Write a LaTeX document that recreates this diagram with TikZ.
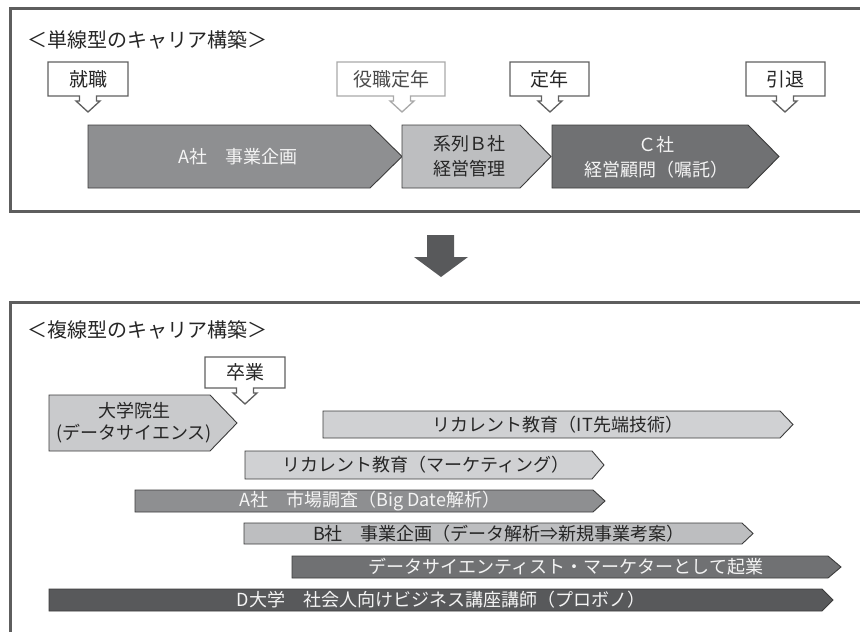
\documentclass[tikz,border=0pt]{standalone}
\usepackage{fontspec}
\setmainfont{Noto Sans CJK JP}
\definecolor{framegray}{HTML}{5E5E5E}
\definecolor{edgegray}{HTML}{3C3C3C}
\definecolor{midgray}{HTML}{8E8F91}
\definecolor{lightgrayb}{HTML}{BDBEC0}
\definecolor{darkgrayb}{HTML}{707173}
\definecolor{palegray}{HTML}{D0D1D3}
\definecolor{darkestgray}{HTML}{58595B}
\definecolor{gradgray}{HTML}{C9CACC}
\definecolor{whitetext}{HTML}{F4F4F4}
\definecolor{darktext}{HTML}{262626}
\definecolor{paleedge}{HTML}{A9A9A9}
\definecolor{paletext}{HTML}{4A4A4A}
\definecolor{callgray}{HTML}{606060}
\tikzset{
  frame/.style={draw=framegray, line width=3pt},
  chev/.style={draw=edgegray, line width=0.9pt, line join=miter},
  callbox/.style={draw=callgray, line width=1.3pt, fill=white, line join=miter},
  callpale/.style={draw=paleedge, line width=1.3pt, fill=white, line join=miter},
  lbl/.style={inner sep=0pt, font=\fontsize{18}{25}\selectfont, align=center},
  wtxt/.style={lbl, text=whitetext},
  dtxt/.style={lbl, text=darktext},
  ttl/.style={inner sep=0pt, anchor=west, font=\fontsize{20}{24}\selectfont, text=darktext},
}
% chevron: style, x1, x2, tip, y1, y2
\newcommand\chevpath[6]{%
  \draw[chev,#1] (#2,#5) -- (#3,#5) -- (#4,{(#5+#6)/2}) -- (#3,#6) -- (#2,#6) -- cycle;}
% callout: style, bx1, by1, bx2, by2, ax
\newcommand\calloutpath[6]{%
  \draw[#1] (#2,#3) -- (#4,#3) -- (#4,#5) -- ({#6+8.5},#5) -- ({#6+8.5},{#5+5})
    -- ({#6+12},{#5+5}) -- (#6,{#5+16}) -- ({#6-12},{#5+5}) -- ({#6-8.5},{#5+5})
    -- ({#6-8.5},#5) -- (#2,#5) -- cycle;}
\begin{document}
\begin{tikzpicture}[x=1pt, y=-1pt]
\useasboundingbox (0,0) rectangle (860,632);
\clip (0,0) rectangle (860,632);
\fill[white] (0,0) rectangle (860,632);

% top frame
\draw[frame] (865,8) -- (10,8) -- (10,211) -- (865,211);
\node[ttl] (t1) at (27,40) {＜単線型のキャリア構築＞};

% callouts (top)
\calloutpath{callbox}{48}{62}{128}{96}{88}
\node[dtxt, font=\fontsize{19}{22}\selectfont] (c1) at (88,79) {就職};
\calloutpath{callpale}{337}{62}{445}{96}{402}
\node[lbl, text=paletext, font=\fontsize{19}{22}\selectfont] (c2) at (391,79) {役職定年};
\calloutpath{callbox}{510}{62}{589}{96}{550}
\node[dtxt, font=\fontsize{19}{22}\selectfont] (c3) at (549.5,79) {定年};
\calloutpath{callbox}{746}{62}{825}{96}{785}
\node[dtxt, font=\fontsize{19}{22}\selectfont] (c4) at (785.5,79) {引退};

% top chevrons
\chevpath{fill=midgray}{88}{370}{402}{125}{188}
\node[wtxt] (a1) at (238,156.5) {A社　事業企画};
\chevpath{fill=lightgrayb}{402}{520}{551}{125}{188}
\node[dtxt] (b1) at (469,156.5) {系列Ｂ社\\経営管理};
\chevpath{fill=darkgrayb}{552}{748}{779}{125}{188}
\node[wtxt] (cc1) at (656,157) {Ｃ社\\経営顧問（嘱託）};

% down arrow
\fill[darkestgray] (427,235) -- (454,235) -- (454,257) -- (468,257) -- (441,277)
  -- (414,257) -- (427,257) -- cycle;

% bottom frame
\draw[frame] (865,302) -- (10,302) -- (10,640);
\node[ttl] (t2) at (27,330) {＜複線型のキャリア構築＞};

% graduation callout
\calloutpath{callbox}{205}{357}{285}{388}{245}
\node[dtxt, font=\fontsize{19}{22}\selectfont] (c5) at (245,372.5) {卒業};

% bottom chevrons
\chevpath{fill=gradgray}{49}{210}{237}{395}{451}
\node[dtxt, font=\fontsize{18}{22}\selectfont] (g1) at (134,423) {大学院生\\(データサイエンス)};
\chevpath{fill=palegray}{323}{780}{793}{411}{438}
\node[dtxt] (r1) at (558,424.5) {リカレント教育（IT先端技術）};
\chevpath{fill=palegray}{245}{592}{604}{451}{479}
\node[dtxt] (r2) at (426,465) {リカレント教育（マーケティング）};
\chevpath{fill=midgray}{135}{593}{605}{490}{512}
\node[wtxt] (m1) at (370,501) {A社　市場調査（Big Date解析）};
\chevpath{fill=lightgrayb}{244}{742}{753}{523}{544}
\node[dtxt] (m2) at (499,533.5) {B社　事業企画（データ解析⇒新規事業考案）};
\chevpath{fill=darkgrayb}{292}{828}{841}{556}{578}
\node[wtxt] (m3) at (566,567) {データサイエンティスト・マーケターとして起業};
\chevpath{fill=darkestgray}{49}{822}{833}{589}{611}
\node[wtxt] (m4) at (441,600) {D大学　社会人向けビジネス講座講師（プロボノ）};
\end{tikzpicture}
\end{document}
